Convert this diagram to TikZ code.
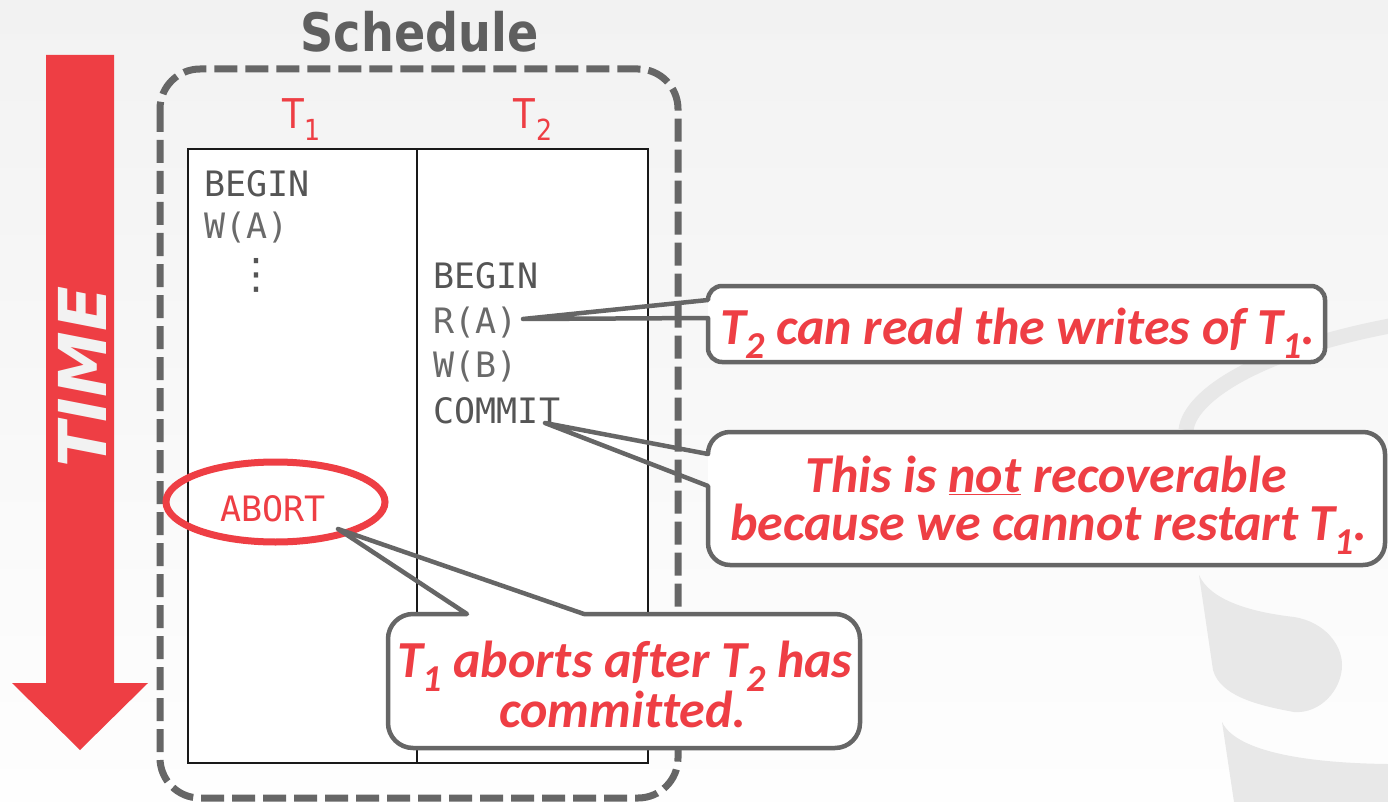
\documentclass[tikz,border=0pt]{standalone}
\usepackage{fontspec}
\usetikzlibrary{shapes.geometric}
\setmainfont{Carlito}
\newfontfamily\calfont[Ligatures=NoCommon]{Carlito}
\newfontfamily\tahfont[FakeStretch=0.87]{DejaVu Sans}
\newfontfamily\verfont{DejaVu Sans}
\newfontfamily\codefont{DejaVu Sans Mono}
\definecolor{alertred}{HTML}{EE3E44}
\definecolor{bgtop}{HTML}{F2F2F2}
\definecolor{bgbot}{HTML}{FEFEFE}
\definecolor{wmgray}{HTML}{E8E8E8}
\definecolor{framegray}{HTML}{666666}
\definecolor{titlegray}{HTML}{5F5F5F}
\definecolor{opdark}{HTML}{555555}
\definecolor{oplight}{HTML}{6A6A6A}
% lowered subscript for the callout texts
\newcommand\csub[1]{\kern-1pt\raisebox{-14pt}{\fontsize{38}{38}\selectfont #1}}
% lowered subscript for the column headers
\newcommand\hsub[1]{\kern1pt\raisebox{-12pt}{\fontsize{29}{29}\selectfont #1}}
\begin{document}
\begin{tikzpicture}[x=1pt,y=-1pt,
  calltext/.style={font=\calfont\bfseries\itshape\fontsize{52}{52}\selectfont,
    text=alertred, inner sep=0pt, anchor=base},
  codetext/.style={font=\codefont\fontsize{35}{35}\selectfont,
    inner sep=0pt, anchor=base west},
  header/.style={font=\tahfont\fontsize{41}{41}\selectfont, text=alertred,
    inner sep=0pt, anchor=base},
  calloutline/.style={draw=framegray, line width=4.5pt, line join=round,
    line cap=round},
  tableline/.style={draw=black!90, line width=1.8pt},
  ]
\useasboundingbox (0,0) rectangle (1388,802);

% background
\shade[top color=bgtop, bottom color=bgbot] (0,0) rectangle (1388,802);

% faint watermark on the right
\draw[wmgray, line width=15pt] (1186,430) .. controls (1190,395) and (1260,350) .. (1395,325);
\fill[wmgray] (1199,575) .. controls (1210,600) and (1250,612) .. (1294,617)
  .. controls (1325,622) and (1342,645) .. (1342,665)
  .. controls (1342,690) and (1320,714) .. (1294,712)
  .. controls (1255,705) and (1220,695) .. (1213,670) -- cycle;
\fill[wmgray] (1222,722) .. controls (1235,750) and (1300,763) .. (1388,764)
  -- (1388,802) -- (1234,802) -- cycle;

% time arrow
\fill[alertred] (46,55) -- (114,55) -- (114,683) -- (148,683) -- (80,750)
  -- (12,683) -- (46,683) -- cycle;
\node[rotate=90, text=bgtop, inner sep=0pt,
  font=\verfont\bfseries\itshape\fontsize{66}{66}\selectfont] (timelabel) at (82,377) {TIME};

% schedule frame
\node[font=\tahfont\bfseries\fontsize{53}{53}\selectfont, text=titlegray,
  inner sep=0pt, anchor=base] (title) at (419.5,52) {Schedule};
\draw[framegray, line width=7pt, dash pattern=on 23pt off 8pt, rounded corners=40pt]
  (160,69) rectangle (678,798);

% transaction table
\draw[tableline, fill=white] (188,149) rectangle (648,763);
\draw[tableline] (417,149) -- (417,763);
\node[header] (t1) at (301.5,129) {T\hsub{1}};
\node[header] (t2) at (533,129) {T\hsub{2}};

% operations of T1
\node[codetext, text=opdark] (b1) at (204.5,197) {BEGIN};
\node[codetext, text=oplight] (wa) at (204.5,239) {W(A)};
\node[font=\verfont\fontsize{42}{42}\selectfont, text=opdark, inner sep=0pt] (dots) at (256.5,275) {⋮};
\node[codetext, text=alertred] (abort) at (220,521) {ABORT};
\node[draw=alertred, line width=7pt, ellipse, minimum width=219pt,
  minimum height=80pt, inner sep=0pt] (abortring) at (275.5,502) {};

% operations of T2
\node[codetext, text=opdark] (b2) at (433.5,288) {BEGIN};
\node[codetext, text=oplight] (ra) at (433.5,333) {R(A)};
\node[codetext, text=oplight] (wb) at (433.5,377) {W(B)};
\node[codetext, text=opdark] (commit) at (433.5,423) {COMMIT};

% callout: dirty read
\coordinate (tip1) at (523,319);
\fill[white, rounded corners=14pt] (708,286) rectangle (1325,362);
\draw[calloutline] (tip1) -- (708,300) arc[start angle=180, end angle=270, radius=14]
  -- (1311,286) arc[start angle=270, end angle=360, radius=14]
  -- (1325,348) arc[start angle=0, end angle=90, radius=14]
  -- (722,362) arc[start angle=90, end angle=180, radius=14]
  -- (708,318) -- (tip1);
\node[calltext] (c1) at (1018,344) {T\csub{2} can read the writes of T\csub{1}.};

% callout: not recoverable
\coordinate (tip2) at (545,423);
\fill[white, rounded corners=22pt] (708,432) rectangle (1385,565);
\draw[calloutline] (tip2) -- (708,454) arc[start angle=180, end angle=270, radius=22]
  -- (1363,432) arc[start angle=270, end angle=360, radius=22]
  -- (1385,543) arc[start angle=0, end angle=90, radius=22]
  -- (730,565) arc[start angle=90, end angle=180, radius=22]
  -- (708,486) -- (tip2);
\node[calltext] (c2a) at (1046,492) {This is \underline{not} recoverable};
\node[calltext] (c2b) at (1049,540) {because we cannot restart T\csub{1}.};

% callout: abort after commit
\coordinate (tip3) at (338,529);
\fill[white, rounded corners=25pt] (388,614) rectangle (860,748);
\draw[calloutline] (tip3) -- (584,614)
  -- (835,614) arc[start angle=270, end angle=360, radius=25]
  -- (860,723) arc[start angle=0, end angle=90, radius=25]
  -- (413,748) arc[start angle=90, end angle=180, radius=25]
  -- (388,639) arc[start angle=180, end angle=270, radius=25]
  -- (467,614) -- (tip3);
\node[calltext] (c3a) at (625,677) {T\csub{1} aborts after T\csub{2} has};
\node[calltext] (c3b) at (623,727) {committed.};
\end{tikzpicture}
\end{document}
